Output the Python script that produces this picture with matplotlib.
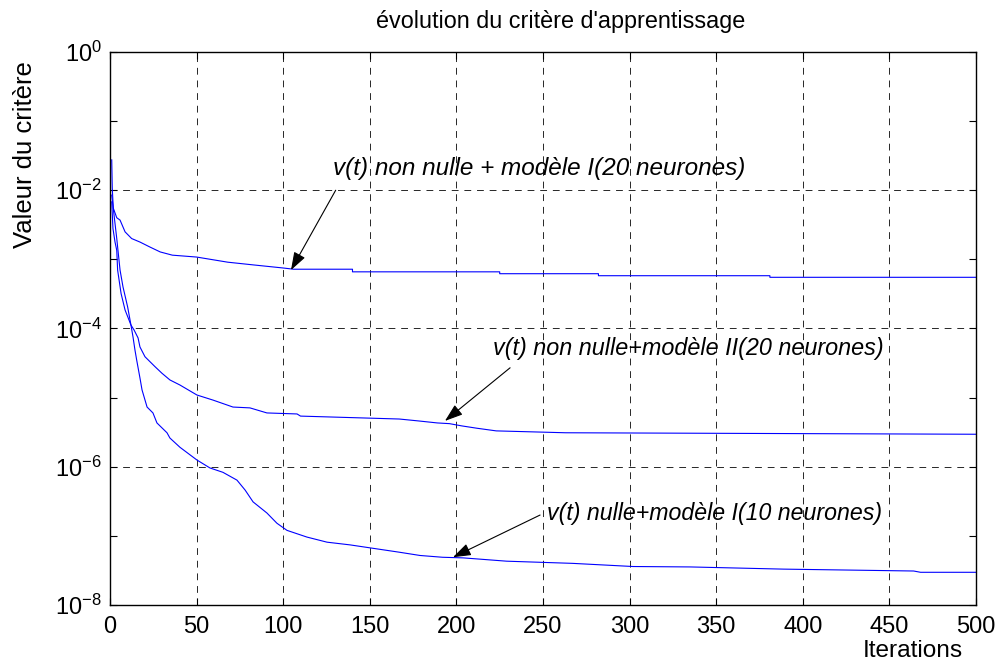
import numpy as np
import matplotlib
matplotlib.use('Agg')
import matplotlib.pyplot as plt
from matplotlib.ticker import FixedLocator, NullFormatter

# Valeurs (iterations, critere)
it_a = [1, 1.3, 1.9, 3.9, 5.8, 8.7, 12.5, 17.3, 23, 29, 36, 50, 68, 83, 100, 106,
        140, 140, 225, 225, 282, 282, 381, 381, 500]
crit_a = [2.75e-2, 1.07e-2, 5.5e-3, 4.0e-3, 3.7e-3, 2.5e-3, 2.0e-3, 1.78e-3, 1.51e-3,
          1.28e-3, 1.15e-3, 1.08e-3, 9.1e-4, 8.3e-4, 7.5e-4, 7.2e-4,
          7.2e-4, 6.6e-4, 6.6e-4, 6.2e-4, 6.2e-4, 5.8e-4, 5.8e-4, 5.5e-4, 5.5e-4]

it_b = [1, 1.7, 2.9, 3.9, 4.4, 6.4, 8.7, 11, 12.1, 13.9, 16.2, 17.3, 20.2, 26, 30,
        34.6, 40.4, 50.2, 59.5, 71, 80.8, 90.6, 108, 110, 167, 178, 189, 196, 203,
        212, 223, 263, 500]
crit_b = [6.8e-3, 2.8e-3, 1.78e-3, 1.35e-3, 7.0e-4, 3.2e-4, 1.85e-4, 1.32e-4, 1.12e-4,
          9.5e-5, 7.3e-5, 5.4e-5, 3.9e-5, 2.8e-5, 2.25e-5, 1.8e-5, 1.52e-5, 1.09e-5,
          9.2e-6, 7.3e-6, 7.1e-6, 6.0e-6, 5.8e-6, 5.4e-6, 4.9e-6, 4.6e-6, 4.3e-6,
          4.2e-6, 3.9e-6, 3.6e-6, 3.3e-6, 3.1e-6, 2.95e-6]

it_c = [1, 3.9, 4.6, 5.8, 7.5, 10.2, 12.1, 13.3, 14.4, 15.4, 17.3, 18.5, 21.4, 24.8,
        27.1, 32.9, 34.6, 40.4, 50.2, 57.7, 65.2, 73.3, 78, 82.6, 90.6, 96.4, 102.2,
        113.7, 125.3, 138.6, 167, 179, 192, 204, 229, 267, 302, 335, 389, 464, 468, 500]
crit_c = [8.5e-3, 2.0e-3, 1.35e-3, 7.0e-4, 4.0e-4, 2.04e-4, 1.12e-4, 7.5e-5, 4.9e-5,
          3.5e-5, 1.92e-5, 1.29e-5, 7.3e-6, 6.0e-6, 4.3e-6, 3.1e-6, 2.6e-6, 1.91e-6,
          1.25e-6, 9.6e-7, 8.3e-7, 6.4e-7, 4.6e-7, 3.1e-7, 2.14e-7, 1.52e-7, 1.2e-7,
          9.6e-8, 8.1e-8, 7.4e-8, 5.8e-8, 5.2e-8, 4.9e-8, 4.8e-8, 4.3e-8, 4.0e-8,
          3.6e-8, 3.55e-8, 3.3e-8, 3.1e-8, 2.97e-8, 2.97e-8]

labels = ['v(t) non nulle + modèle I(20 neurones)',
          'v(t) non nulle+modèle II(20 neurones)',
          'v(t) nulle+modèle I(10 neurones)']
label_size = [17.5, 16.8, 16.7]
arrow_tip = [(104.5, 7.0e-4), (193.4, 4.6e-6), (198, 4.9e-8)]
text_pos = [(128.8, 2.04e-2), (221.1, 5.2e-5), (252.3, 2.1e-7)]
arrow_tail = [(130.3, 1.0e-2), (231, 2.7e-5), (248.3, 2.0e-7)]

plt.rcParams['font.family'] = ['Liberation Sans', 'DejaVu Sans']
plt.rcParams['mathtext.fontset'] = 'custom'
plt.rcParams['mathtext.rm'] = 'Liberation Sans'
plt.rcParams['mathtext.it'] = 'Liberation Sans:italic'

fig = plt.figure(figsize=(10, 6.64), dpi=100)
ax = fig.add_axes([0.110, 0.0889, 0.866, 0.8328])

for x, y in [(it_a, crit_a), (it_b, crit_b), (it_c, crit_c)]:
    ax.plot(x, y, color='#0000ff', lw=0.8)

ax.set_yscale('log')
ax.set_xlim(0, 500)
ax.set_ylim(1e-8, 1)
ax.set_xticks(np.arange(0, 501, 50))
ax.yaxis.set_major_locator(FixedLocator([1e-8, 1e-6, 1e-4, 1e-2, 1]))
ax.yaxis.set_minor_locator(FixedLocator([1e-7, 1e-5, 1e-3, 1e-1]))
ax.yaxis.set_minor_formatter(NullFormatter())
ax.set_yticklabels([r'$\mathdefault{10^{-8}}$', r'$\mathdefault{10^{-6}}$',
                    r'$\mathdefault{10^{-4}}$', r'$\mathdefault{10^{-2}}$',
                    r'$\mathdefault{10^{0}}$'])

ax.tick_params(which='both', direction='in', top=True, right=True,
               length=5, width=0.8, labelsize=17)
ax.tick_params(axis='x', pad=8)
ax.tick_params(axis='y', pad=6)
ax.grid(True, which='major', color='0.15', linestyle=(0, (7, 6)), linewidth=0.7)
for s in ax.spines.values():
    s.set_linewidth(1.0)

for lab, fs, tip, tp, tail in zip(labels, label_size, arrow_tip, text_pos, arrow_tail):
    ax.text(tp[0], tp[1], lab, fontsize=fs, style='italic', va='center', ha='left')
    ax.annotate('', xy=tip, xytext=tail,
                arrowprops=dict(arrowstyle='-|>,head_length=1.1,head_width=0.38',
                                color='black', lw=0.8, shrinkA=0, shrinkB=0))

fig.text(0.561, 0.968, "évolution du critère d'apprentissage", fontsize=16.8,
         ha='center', va='center')
fig.text(0.025, 0.767, 'Valeur du critère', fontsize=18.5, rotation=90,
         ha='center', va='center')
fig.text(0.913, 0.0196, 'Iterations', fontsize=17.6, ha='center', va='center')

fig.savefig('out.png', dpi=100)
